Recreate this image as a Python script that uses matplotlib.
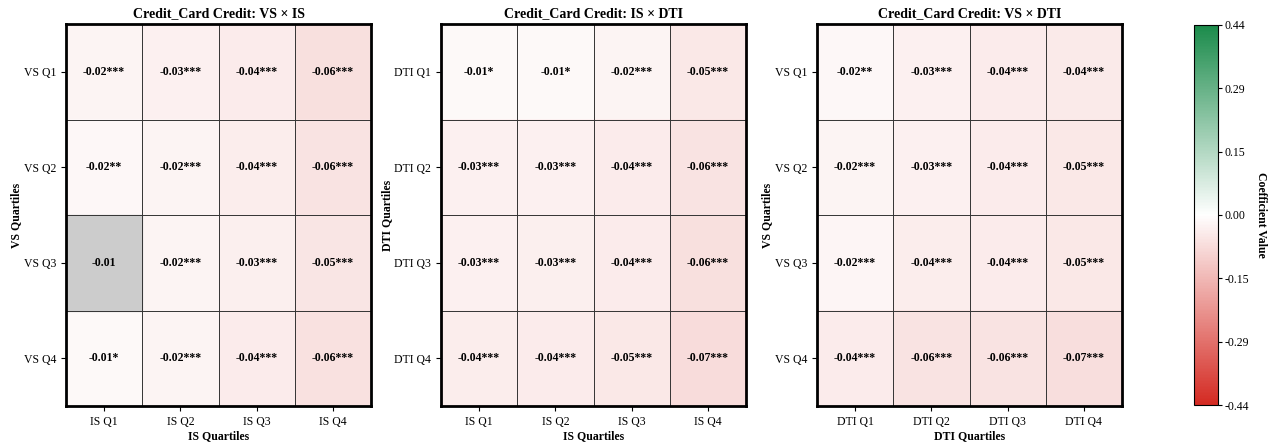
import numpy as np
import matplotlib
matplotlib.use("Agg")
import matplotlib.pyplot as plt
from matplotlib.colors import LinearSegmentedColormap, Normalize

plt.rcParams['font.family'] = ['Liberation Serif', 'DejaVu Serif']

# coefficient estimates (rows = y quartiles Q1..Q4, cols = x quartiles Q1..Q4)
vs_is = [[-0.021, -0.028, -0.040, -0.064],
         [-0.016, -0.022, -0.036, -0.058],
         [-0.009, -0.021, -0.033, -0.052],
         [-0.011, -0.022, -0.038, -0.059]]
vs_is_stars = [["***", "***", "***", "***"],
               ["**", "***", "***", "***"],
               ["", "***", "***", "***"],
               ["*", "***", "***", "***"]]

is_dti = [[-0.012, -0.011, -0.022, -0.047],
          [-0.028, -0.029, -0.038, -0.057],
          [-0.030, -0.031, -0.040, -0.064],
          [-0.037, -0.039, -0.047, -0.072]]
is_dti_stars = [["*", "*", "***", "***"],
                ["***", "***", "***", "***"],
                ["***", "***", "***", "***"],
                ["***", "***", "***", "***"]]

vs_dti = [[-0.016, -0.030, -0.041, -0.044],
          [-0.021, -0.030, -0.039, -0.047],
          [-0.020, -0.037, -0.040, -0.047],
          [-0.040, -0.056, -0.057, -0.068]]
vs_dti_stars = [["**", "***", "***", "***"],
                ["***", "***", "***", "***"],
                ["***", "***", "***", "***"],
                ["***", "***", "***", "***"]]

panels = [
    ("Credit_Card Credit: VS × IS", vs_is, vs_is_stars, "IS", "VS"),
    ("Credit_Card Credit: IS × DTI", is_dti, is_dti_stars, "IS", "DTI"),
    ("Credit_Card Credit: VS × DTI", vs_dti, vs_dti_stars, "DTI", "VS"),
]

vmax = 0.44
cmap = LinearSegmentedColormap.from_list("rg", ["#d42a22", "#ffffff", "#1b8b4b"])
norm = Normalize(-vmax, vmax)

fig = plt.figure(figsize=(12.79, 4.44), dpi=100)
lefts = [0.0516, 0.3448, 0.6388]

for left, (title, vals, stars, xname, yname) in zip(lefts, panels):
    ax = fig.add_axes([left, 0.0856, 0.2385, 0.860])
    arr = np.array(vals)
    ax.imshow(arr, cmap=cmap, norm=norm, aspect='auto')
    for i in range(4):
        for j in range(4):
            if stars[i][j] == "":
                ax.add_patch(plt.Rectangle((j - 0.5, i - 0.5), 1, 1, color='#cccccc', zorder=2))
            ax.text(j, i, f"{arr[i, j]:.2f}{stars[i][j]}", ha='center', va='center',
                    fontsize=8.5, fontweight='bold', zorder=3)
    for k in range(1, 4):
        ax.axhline(k - 0.5, color='#333333', lw=0.7, zorder=2.5)
        ax.axvline(k - 0.5, color='#333333', lw=0.7, zorder=2.5)
    ax.set_xticks(range(4))
    ax.set_xticklabels([f"{xname} Q{k}" for k in range(1, 5)], fontsize=8.5)
    ax.set_yticks(range(4))
    ax.set_yticklabels([f"{yname} Q{k}" for k in range(1, 5)], fontsize=8.5)
    ax.set_xlabel(f"{xname} Quartiles", fontsize=8.5, fontweight='bold', labelpad=2)
    ax.set_ylabel(f"{yname} Quartiles", fontsize=8.5, fontweight='bold', labelpad=1)
    ax.set_title(title, fontsize=10, fontweight='bold', pad=5)
    for s in ax.spines.values():
        s.set_linewidth(2)

cax = fig.add_axes([0.9335, 0.0878, 0.0188, 0.856])
sm = plt.cm.ScalarMappable(cmap=cmap, norm=norm)
cb = fig.colorbar(sm, cax=cax)
ticks = np.linspace(-vmax, vmax, 7)
cb.set_ticks(ticks)
cb.set_ticklabels([f"{t:.2f}" for t in ticks])
cb.ax.tick_params(labelsize=8.5, length=3, pad=1.5)
cb.set_label("Coefficient Value", rotation=270, labelpad=13, fontsize=8.5, fontweight='bold')

fig.savefig("out.png", dpi=100)
